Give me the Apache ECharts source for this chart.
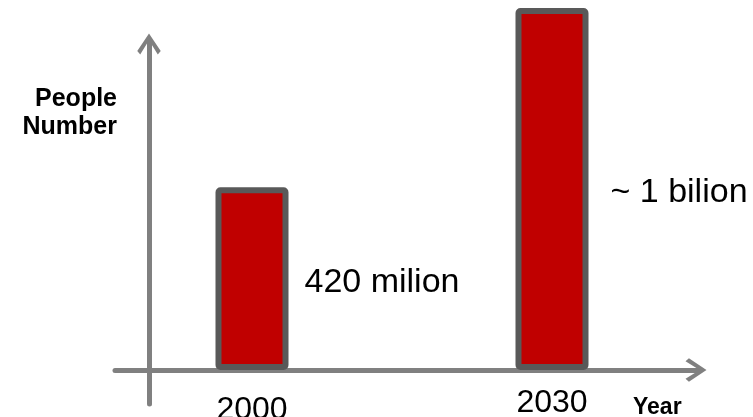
<!DOCTYPE html>
<html>
<head>
<meta charset="utf-8">
<script src="https://cdn.jsdelivr.net/npm/echarts@6/dist/echarts.min.js"></script>
<style>
html,body{margin:0;padding:0;background:#fff;}
#c{width:753px;height:417px;}
</style>
</head>
<body>
<div id="c"></div>
<script>
// Data
const years = [2000, 2030];
const yearLabels = ['2000', '2030'];
const people = [420, 832];            // million people (bar heights)
const barNotes = ['420 milion', '~ 1 bilion'];
const xName = 'Year';
const yName = 'People\nNumber';

const chart = echarts.init(document.getElementById('c'), null, {renderer: 'canvas'});
const arrow = 'path://M12 0 L24 18 L21 21.5 L12 7 L3 21.5 L0 18 Z';
const axisGray = '#808080';
const font = 'Liberation Sans, Arial, sans-serif';
const noteDist = [16, 22];
const labelPad = [7, 0];

const option = {
  animation: false,
  backgroundColor: '#fff',
  grid: {left: 115, right: 53, top: 40, bottom: 13, outerBoundsMode: 'none', containLabel: false},
  xAxis: {
    type: 'value',
    min: 1986.3,
    max: 2044.8,
    splitLine: {show: false},
    axisTick: {show: false},
    axisLine: {
      onZero: true,
      lineStyle: {color: axisGray, width: 5},
      symbol: ['none', arrow],
      symbolSize: [24, 21],
      symbolOffset: [0, -4]
    },
    axisLabel: {
      show: true,
      customValues: years,
      margin: -17,
      fontFamily: font,
      fontSize: 32,
      color: '#000',
      formatter: function (v) {
        const i = years.indexOf(v);
        return '{y' + i + '|' + yearLabels[i] + '}';
      },
      rich: {
        y0: {fontFamily: font, fontSize: 32, color: '#000', padding: [labelPad[0], 0, 0, 0]},
        y1: {fontFamily: font, fontSize: 32, color: '#000', padding: [labelPad[1], 0, 0, 0]}
      }
    },
    name: xName,
    nameLocation: 'end',
    nameGap: -67,
    nameTextStyle: {
      align: 'left', verticalAlign: 'top', padding: [26, 0, 0, 0],
      fontFamily: font, fontWeight: 'bold', fontSize: 23, color: '#000'
    }
  },
  yAxis: {
    type: 'value',
    min: -78.2,
    max: 758.6,
    offset: -34,
    splitLine: {show: false},
    axisTick: {show: false},
    axisLabel: {show: false},
    axisLine: {
      onZero: false,
      lineStyle: {color: axisGray, width: 5},
      symbol: ['none', arrow],
      symbolSize: [24, 21],
      symbolOffset: [0, -4]
    },
    name: yName,
    nameLocation: 'end',
    nameGap: -45,
    nameTextStyle: {
      align: 'right', verticalAlign: 'top', padding: [0, 32, 0, 0],
      lineHeight: 28,
      fontFamily: font, fontWeight: 'bold', fontSize: 25, color: '#000'
    }
  },
  series: [{
    type: 'bar',
    clip: false,
    barWidth: 73,
    itemStyle: {color: '#C00000', borderColor: '#595959', borderWidth: 6, borderRadius: 2},
    label: {
      show: true,
      position: 'right',
      offset: [0, 4],
      fontFamily: font,
      fontSize: 34,
      color: '#000',
      formatter: function (p) { return barNotes[p.dataIndex]; }
    },
    data: years.map(function (y, i) {
      return {value: [y, people[i]], label: {distance: noteDist[i]}};
    })
  }]
};
chart.setOption(option);
</script>
</body>
</html>
